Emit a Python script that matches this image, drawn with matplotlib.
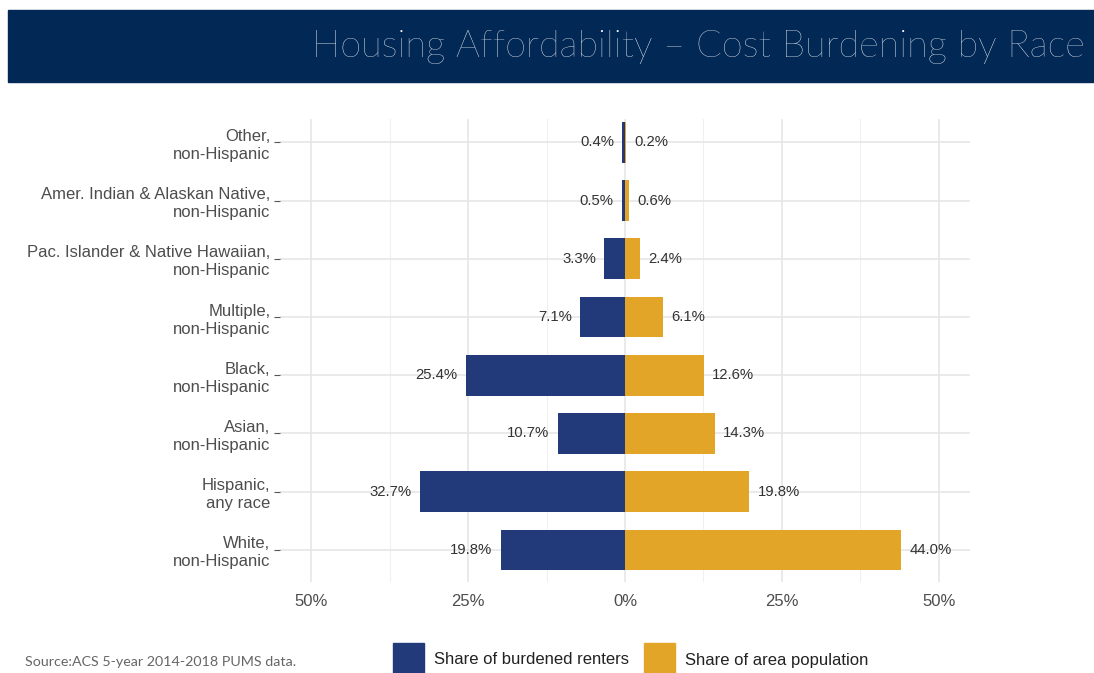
import numpy as np
import matplotlib.pyplot as plt
from matplotlib.patches import Rectangle

# categories from bottom to top
groups = ['White,\nnon-Hispanic', 'Hispanic,\nany race', 'Asian,\nnon-Hispanic',
          'Black,\nnon-Hispanic', 'Multiple,\nnon-Hispanic',
          'Pac. Islander & Native Hawaiian,\nnon-Hispanic',
          'Amer. Indian & Alaskan Native,\nnon-Hispanic', 'Other,\nnon-Hispanic']
burdened = [19.8, 32.7, 10.7, 25.4, 7.1, 3.3, 0.5, 0.4]
population = [44.0, 19.8, 14.3, 12.6, 6.1, 2.4, 0.6, 0.2]
xticks = [-50, -25, 0, 25, 50]
legend_labels = ['Share of burdened renters', 'Share of area population']

navy = '#233a7a'
gold = '#e3a528'
banner = '#022856'
txt = '#333333'
tick_col = '#4d4d4d'

plt.rcParams['font.family'] = ['Liberation Sans', 'DejaVu Sans']

fig = plt.figure(figsize=(10.94, 6.73), dpi=100)
W, H = 1094, 673

# title banner
fig.patches.append(Rectangle((8 / W, 1 - 82 / H), 1, 72 / H, transform=fig.transFigure,
                             color=banner, zorder=0))
fig.text(312 / W, 1 - 47 / H, 'Housing Affordability \u2013 Cost Burdening by Race',
         color='white', fontsize=27.3, family=['Lato', 'DejaVu Sans'], fontweight='light',
         va='center', ha='left')

ax = fig.add_axes([280 / W, 1 - 582 / H, 690 / W, 463 / H])
y = np.arange(len(groups))
ax.barh(y, [-v for v in burdened], height=0.7, color=navy, zorder=2)
ax.barh(y, population, height=0.7, color=gold, zorder=2)

for yi, b, p in zip(y, burdened, population):
    ax.annotate(f'{b:.1f}%', (-b, yi), xytext=(-6, 0), textcoords='offset points',
                ha='right', va='center', fontsize=10.7, color=txt)
    ax.annotate(f'{p:.1f}%', (p, yi), xytext=(6, 0), textcoords='offset points',
                ha='left', va='center', fontsize=10.7, color=txt)

ax.set_xlim(-55, 55)
ax.set_ylim(-0.55, 7.4)
ax.set_xticks(xticks)
ax.set_xticklabels([f'{abs(t)}%' for t in xticks])
ax.set_xticks([-37.5, -12.5, 12.5, 37.5], minor=True)
ax.set_yticks(y)
ax.set_yticklabels(groups, ha='right', linespacing=1.25)
ax.tick_params(axis='x', which='both', length=0, pad=9, labelsize=12, labelcolor=tick_col)
ax.tick_params(axis='y', length=4, width=0.8, color='#555555', pad=3,
               labelsize=12, labelcolor=tick_col)
ax.grid(True, which='major', color='#e6e6e6', linewidth=1.2, zorder=0)
ax.grid(True, which='minor', axis='x', color='#f0f0f0', linewidth=0.8, zorder=0)
for s in ax.spines.values():
    s.set_visible(False)
ax.set_axisbelow(True)

# legend at the bottom
for i, (lab, c, x0) in enumerate(zip(legend_labels, [navy, gold], [393, 644])):
    fig.patches.append(Rectangle((x0 / W, 0), 31 / W, 30 / H, transform=fig.transFigure,
                                 color=c))
    fig.text((x0 + 41) / W, 1 - 660 / H, lab, fontsize=12, color='#222222',
             va='center', ha='left')

fig.text(25 / W, 1 - 662 / H, 'Source:ACS 5-year 2014-2018 PUMS data.', fontsize=10.3,
         color='#666666', family=['Lato', 'DejaVu Sans'], va='center', ha='left')

plt.savefig('out.png', dpi=100)
